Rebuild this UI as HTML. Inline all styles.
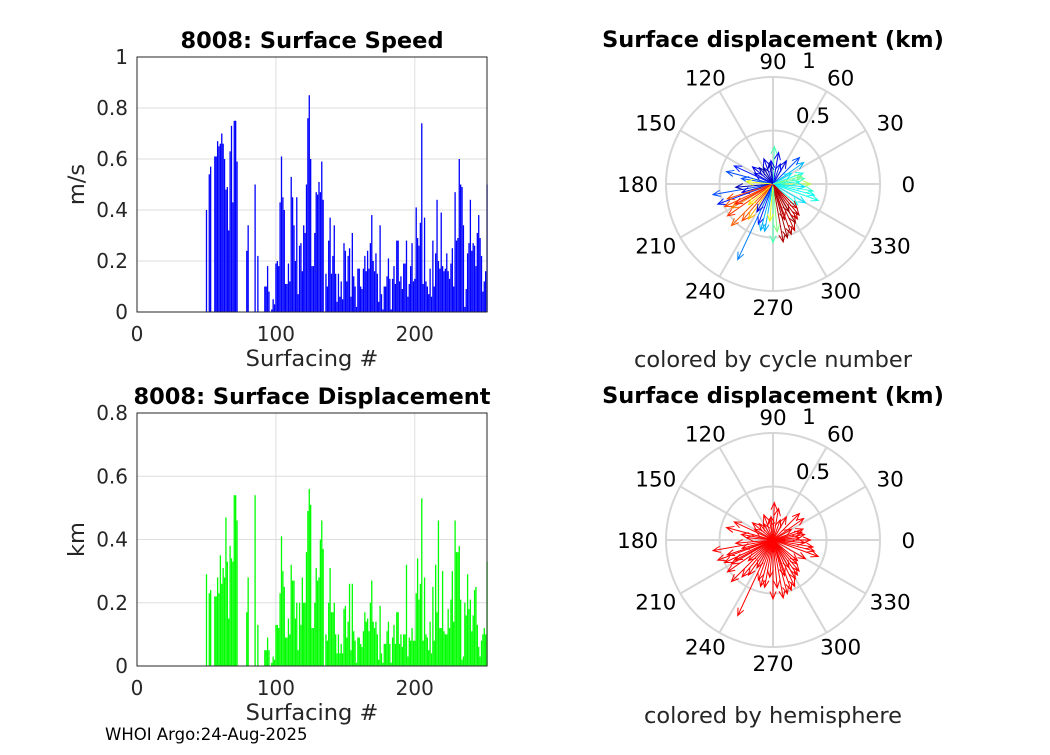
<!DOCTYPE html>
<html><head><meta charset="utf-8"><style>
body{margin:0;background:#fff}
svg text{font-family:"DejaVu Sans","Liberation Sans",sans-serif}
</style></head><body>
<svg id="fig" width="1050" height="750" xmlns="http://www.w3.org/2000/svg">
<rect width="1050" height="750" fill="#fff"/>
</svg>
<script>
const speedStart = 50;
const speedVals = [.40,0,.54,.57,0,0,.61,.61,.67,.65,.66,.70,.66,.60,.48,.49,.32,.63,.73,.43,.75,.75,.59,0,0,0,0,0,0,.24,.34,0,0,0,0,.50,0,.22,0,0,0,0,.10,.10,.18,.08,0,.01,.05,.03,.19,.20,.18,.43,.61,.45,.40,.11,.11,.19,.12,.53,.45,.34,.20,.45,.07,.26,.27,.16,.34,.31,.50,.76,.85,.60,.18,.18,.31,.47,.46,.51,.47,.59,.44,0,.15,.10,.28,.37,.15,.22,.34,.15,.04,.15,.06,.12,.05,.27,.24,.12,.22,.25,.06,.31,.14,.10,.02,.17,.17,.10,.09,.17,.22,.16,.24,.17,.27,.38,.20,.16,.23,.15,.04,.34,.07,.01,.10,.10,.14,.21,.13,.01,.13,.18,.11,.28,.28,.12,.14,.09,.19,.19,.28,.06,.11,.18,.27,.12,.13,.41,.29,.26,.35,.74,.11,.37,.12,.10,.07,.17,.06,.28,.10,.23,.44,.20,.17,.39,.18,.16,.17,.23,.16,.13,.19,.25,.10,.47,.28,.29,.60,.50,.49,.34,.02,.09,.23,.27,.44,.24,.27,.26,.18,.31,.38,.29,.22,.08,.12,.16,.50];
const dispVals = [.29,0,.23,.24,0,0,.22,.22,.28,.23,.35,.26,.31,.28,.47,.33,.15,.38,.34,.33,.54,.54,.46,0,0,0,0,0,0,.17,.28,0,0,0,0,.54,0,.13,0,0,0,0,.05,.05,.09,.05,0,.01,.03,.02,.13,.13,.12,.23,.41,.30,.25,.09,.09,.15,.10,.32,.27,.27,.15,.20,.05,.20,.13,.28,.20,.20,.36,.49,.56,.51,.12,.12,.20,.31,.27,.28,.40,.46,.37,0,.10,.08,.20,.31,.17,.17,.20,.10,.04,.10,.04,.07,.04,.18,.19,.09,.14,.26,.05,.26,.11,.08,.01,.09,.09,.07,.06,.11,.17,.14,.15,.11,.20,.27,.14,.12,.14,.10,.02,.19,.04,.01,.07,.07,.11,.14,.07,.01,.09,.13,.07,.17,.17,.07,.10,.06,.10,.10,.32,.03,.09,.08,.12,.08,.08,.23,.34,.21,.26,.53,.08,.28,.10,.09,.05,.14,.04,.25,.08,.32,.17,.46,.12,.12,.30,.11,.10,.10,.18,.12,.21,.30,.14,.46,.36,.36,.38,.21,.02,.03,.20,.16,.29,.18,.21,.11,.16,.24,.25,.13,.06,.03,.08,.10,.12,.10,.33];
const xTicks = [0,100,200];
const speedTicks = [0,0.2,0.4,0.6,0.8,1];
const speedTickLabels = ["0","0.2","0.4","0.6","0.8","1"];
const dispTicks = [0,0.2,0.4,0.6,0.8];
const dispTickLabels = ["0","0.2","0.4","0.6","0.8"];
const arrowAngles = [245,190,200,165,155,205,215,225,230,210,280,285,290,295,300,305,310,275,260,270,340,345,350,330,20,35,45,60,80,88,95,100,110,130,140,170,185,195,250,255,265,320,315,0,10,5,355,235,220,240,300,288,198,208,175,150,120,70,30,15];
const arrowLens = [0.78,0.57,0.55,0.45,0.40,0.50,0.52,0.55,0.45,0.45,0.55,0.52,0.50,0.48,0.42,0.40,0.38,0.45,0.45,0.55,0.45,0.40,0.38,0.35,0.30,0.35,0.35,0.25,0.30,0.35,0.22,0.20,0.25,0.20,0.25,0.30,0.35,0.30,0.40,0.45,0.35,0.30,0.32,0.35,0.30,0.25,0.30,0.40,0.30,0.30,0.30,0.35,0.45,0.40,0.25,0.20,0.18,0.20,0.20,0.28];
const arrowCycle = [0.25,0.2,0.15,0.2,0.15,0.8,0.82,0.78,0.8,0.75,0.95,0.97,0.95,0.93,0.96,0.92,0.94,0.5,0.3,0.45,0.4,0.38,0.42,0.35,0.4,0.3,0.2,0.1,0.1,0.45,0.1,0.05,0.1,0.05,0.1,0.2,0.05,0.1,0.15,0.3,0.6,0.4,0.93,0.55,0.45,0.4,0.35,0.7,0.65,0.1,0.97,0.93,0.8,0.85,0.6,0.1,0.05,0.15,0.35,0.5];

const NS="http://www.w3.org/2000/svg";
const svg=document.getElementById('fig');
function mk(tag,attrs,parent){const e=document.createElementNS(NS,tag);for(const k in attrs)e.setAttribute(k,attrs[k]);(parent||svg).appendChild(e);return e;}
function txt(x,y,s,size,opts){opts=opts||{};const t=mk('text',{x:x,y:y,'font-size':size,'text-anchor':opts.anchor||'middle',fill:opts.fill||'#262626','font-weight':opts.bold?'bold':'normal'});if(opts.rot)t.setAttribute('transform','rotate(-90 '+x+' '+y+')');t.textContent=s;return t;}

function barChart(cfg){
  const g=mk('g',{});
  
  
  const xs=v=>cfg.x0+(v-0)/(252)*(cfg.x1-cfg.x0);
  const ys=v=>cfg.y0-(v/cfg.ymax)*(cfg.y0-cfg.y1);
  cfg.yTicks.forEach((t,i)=>{
    const gl=mk('line',{x1:cfg.x0,x2:cfg.x1,y1:ys(t),y2:ys(t),stroke:'#dedede','stroke-width':1},g);
    
    
    const l=txt(cfg.x0-9,ys(t)+7,cfg.yLabels[i],20,{anchor:'end'});
    
    
  });
  xTicks.forEach(t=>{
    const gl=mk('line',{x1:xs(t),x2:xs(t),y1:cfg.y0,y2:cfg.y1,stroke:'#dedede','stroke-width':1},g);
    
    
    const l=txt(xs(t),cfg.y0+29,String(t),20);
    
    
  });
  cfg.vals.forEach((v,i)=>{
    if(v<=0)return;
    const c=speedStart+i;
    const b=mk('rect',{x:xs(c)-0.6,y:ys(v),width:1.3,height:cfg.y0-ys(v),fill:cfg.color},g);
    
    
  });
  const box=mk('rect',{x:cfg.x0,y:cfg.y1,width:cfg.x1-cfg.x0,height:cfg.y0-cfg.y1,fill:'none',stroke:'#262626','stroke-width':1},g);
  
  
  const ti=txt((cfg.x0+cfg.x1)/2,cfg.y1-9,cfg.title,22.5,{bold:true,fill:'#000'});
  
  
  const xl=txt((cfg.x0+cfg.x1)/2,cfg.y0+54,'Surfacing #',22.5);
  
  
  const yl=txt(84,(cfg.y0+cfg.y1)/2,cfg.ylabel,22.5,{rot:true});
  
  
}
barChart({name:'speed-chart',x0:137,x1:487,y0:312,y1:57,ymax:1,yTicks:speedTicks,yLabels:speedTickLabels,vals:speedVals,color:'#0000ff',title:'8008: Surface Speed',ylabel:'m/s'});
barChart({name:'displacement-chart',x0:137,x1:487,y0:666,y1:413,ymax:0.8,yTicks:dispTicks,yLabels:dispTickLabels,vals:dispVals,color:'#00ff00',title:'8008: Surface Displacement',ylabel:'km'});

function jet(v){
  const r=Math.min(Math.max(Math.min(4*v-1.5,-4*v+4.5),0),1);
  const g=Math.min(Math.max(Math.min(4*v-0.5,-4*v+3.5),0),1);
  const b=Math.min(Math.max(Math.min(4*v+0.5,-4*v+2.5),0),1);
  return 'rgb('+Math.round(r*255)+','+Math.round(g*255)+','+Math.round(b*255)+')';
}
function polar(cfg){
  const cx=773,cy=cfg.cy,R=107;
  const g=mk('g',{});
  
  
  [0.5,1].forEach(r=>{
    const c=mk('circle',{cx:cx,cy:cy,r:r*R,fill:'none',stroke:'#d6d6d6','stroke-width':2},g);
    
    
  });
  for(let a=0;a<360;a+=30){
    const rad=a*Math.PI/180;
    const s=mk('line',{x1:cx,y1:cy,x2:cx+R*Math.cos(rad),y2:cy-R*Math.sin(rad),stroke:'#d6d6d6','stroke-width':2},g);
    
    
    const lr=R+16;
    const l=txt(cx+lr*Math.cos(rad)*1.1,cy-lr*Math.sin(rad)+8,String(a),21.5,{fill:'#000'});
    
    
  }
  const r1=txt(809,cy-116,'1',21.5,{fill:'#000'});
  
  
  const r2=txt(813,cy-61,'0.5',21.5,{fill:'#000'});
  
  
  arrowAngles.forEach((a,i)=>{
    const rad=a*Math.PI/180,L=arrowLens[i]*R;
    const ex=cx+L*Math.cos(rad),ey=cy-L*Math.sin(rad);
    const col=cfg.mono||jet(arrowCycle[i]);
    const h=8,sp=0.4;
    const p1x=ex-h*Math.cos(rad-sp),p1y=ey+h*Math.sin(rad-sp);
    const p2x=ex-h*Math.cos(rad+sp),p2y=ey+h*Math.sin(rad+sp);
    const p=mk('path',{d:'M'+cx+' '+cy+'L'+ex+' '+ey+'M'+p1x+' '+p1y+'L'+ex+' '+ey+'L'+p2x+' '+p2y,stroke:col,'stroke-width':1,fill:'none'},g);
    
    
  });
  const ti=txt(cx,cy-137,'Surface displacement (km)',22.5,{bold:true,fill:'#000'});
  
  
  const cap=txt(cx,cy+183,cfg.caption,22.5);
  
  
}
polar({name:'polar-cycle',cy:184,caption:'colored by cycle number'});
polar({name:'polar-hemisphere',cy:540,caption:'colored by hemisphere',mono:'#ff0000'});
const foot=txt(105,740,'WHOI Argo:24-Aug-2025',16.5,{anchor:'start',fill:'#000'});


</script>
</body></html>
